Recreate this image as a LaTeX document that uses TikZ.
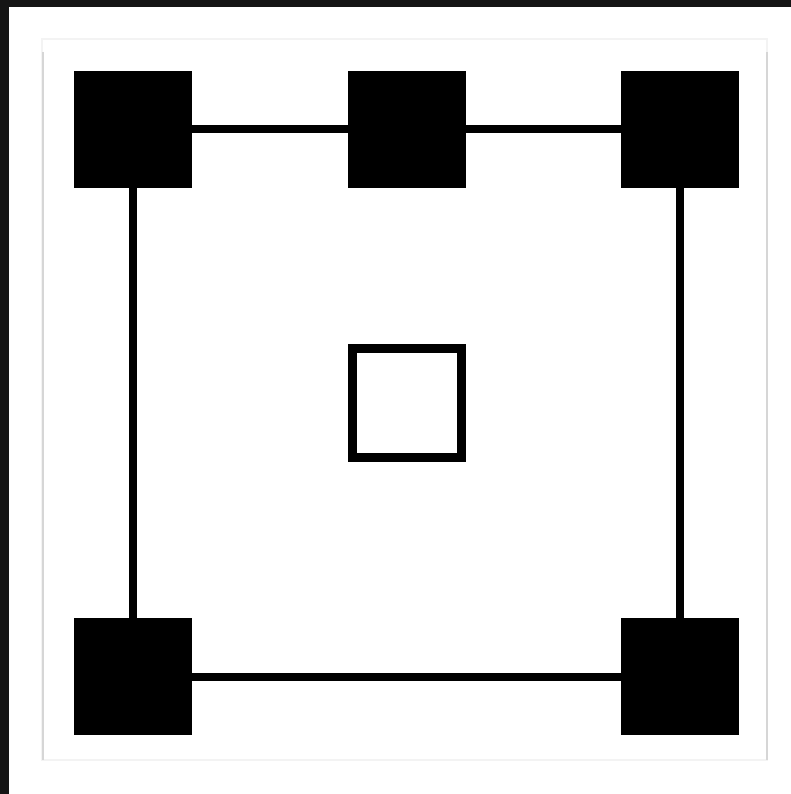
\documentclass[tikz,border=0pt]{standalone}
\usepackage{tikz}
\usepackage{xcolor}
\usetikzlibrary{positioning, backgrounds}
\definecolor{FrameDark}{HTML}{151515}
\definecolor{CardEdge}{HTML}{D6D6D6}
\definecolor{CardRim}{HTML}{F3F3F3}
\tikzset{
    % Filled square blocks
    block solid/.style={
        rectangle,
        draw=none,
        fill=black,
        minimum width=118,
        minimum height=117,
        inner sep=0pt
    },
    % Hollow square in the middle
    block hollow/.style={
        rectangle,
        draw=black,
        fill=white,
        line width=9,
        minimum width=109,
        minimum height=109,
        inner sep=0pt
    },
    link style/.style={
        -,
        line width=8,
        black
    }
}

\begin{document}
\begin{tikzpicture}[x=1pt, y=-1pt]
        % Canvas and dark border
        \fill[white] (0,0) rectangle (791,794);
        \useasboundingbox (0,0) rectangle (791,794);
        \fill[FrameDark] (0,0) rectangle (791,7);
        \fill[FrameDark] (0,0) rectangle (9,794);

        % Card outline
        \draw[CardRim, line width=1.5] (42,39) rectangle (767,760);
        \draw[CardEdge, line width=2] (43,52) -- (43,760);
        \draw[CardEdge, line width=2] (767,52) -- (767,760);

        % Blocks
        \node[block solid] (topleft) at (133,129.5) {};
        \node[block solid] (topmid) at (407,129.5) {};
        \node[block solid] (topright) at (680,129.5) {};
        \node[block solid] (botleft) at (133,676.5) {};
        \node[block solid] (botright) at (680,676.5) {};
        \node[block hollow] (centre) at (407,403) {};

        % Links
        \draw[link style] (topleft) -- (topmid);
        \draw[link style] (topmid) -- (topright);
        \draw[link style] (topleft) -- (botleft);
        \draw[link style] (topright) -- (botright);
        \draw[link style] (botleft) -- (botright);
    \end{tikzpicture}
\end{document}
